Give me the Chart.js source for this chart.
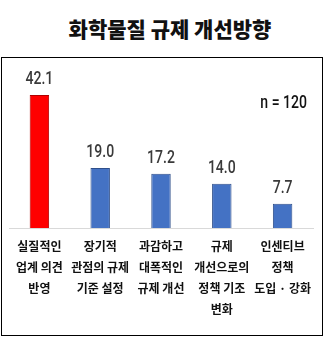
<!DOCTYPE html>
<html>
<head>
<meta charset="utf-8">
<script src="https://cdn.jsdelivr.net/npm/chart.js@4/dist/chart.umd.min.js"></script>
<style>
  html, body { margin: 0; padding: 0; background: #fff; }
  body { width: 326px; height: 351px; position: relative; overflow: hidden; }
  #title {
    position: absolute; left: 0; top: 13px; width: 340px; text-align: center;
    font-family: "Noto Sans CJK KR", sans-serif; font-weight: 900; font-size: 21px;
    color: #111; line-height: 30px;
  }
  #box {
    position: absolute; left: 1px; top: 57px; width: 320px; height: 277px;
    border: 1.5px solid #000;
  }
  #wrap { position: absolute; left: 0; top: 0; width: 320px; height: 277px; }
</style>
</head>
<body>
<div id="title">화학물질 규제 개선방향</div>
<div id="box"><div id="wrap"><canvas id="c"></canvas></div></div>
<script>
const categories = [
  ["실질적인", "업계 의견", "반영"],
  ["장기적", "관점의 규제", "기준 설정"],
  ["과감하고", "대폭적인", "규제 개선"],
  ["규제", "개선으로의", "정책 기조", "변화"],
  ["인센티브", "정책", "도입 · 강화"]
];
const values = [42.1, 19.0, 17.2, 14.0, 7.7];
const barColors = ["#FF0000", "#4472C4", "#4472C4", "#4472C4", "#4472C4"];
const borderColors = ["#B00000", "#2F4F8A", "#2F4F8A", "#2F4F8A", "#2F4F8A"];
const sampleNote = "n = 120";

const narrowFont = '500 18px Roboto, sans-serif';
const squeeze = 0.78;

function drawNarrow(ctx, text, x, y) {
  ctx.save();
  ctx.translate(x, y);
  ctx.scale(squeeze, 1);
  ctx.fillText(text, 0, 0);
  ctx.restore();
}

const valueLabels = {
  id: 'valueLabels',
  afterDatasetsDraw(chart) {
    const ctx = chart.ctx;
    const meta = chart.getDatasetMeta(0);
    ctx.save();
    ctx.font = narrowFont;
    ctx.fillStyle = '#3a3a3a';
    ctx.textAlign = 'center';
    ctx.textBaseline = 'bottom';
    meta.data.forEach((bar, i) => {
      drawNarrow(ctx, values[i].toFixed(1), bar.x, bar.y - 6);
    });
    const a = chart.chartArea;
    ctx.fillStyle = '#111';
    ctx.textAlign = 'right';
    ctx.textBaseline = 'middle';
    drawNarrow(ctx, sampleNote, a.right - 6, chart.scales.y.getPixelForValue(39.5));
    ctx.restore();
  }
};

new Chart(document.getElementById('c'), {
  type: 'bar',
  data: {
    labels: categories,
    datasets: [{
      data: values,
      backgroundColor: barColors,
      borderColor: borderColors,
      borderWidth: 1,
      categoryPercentage: 1.0,
      barPercentage: 0.32
    }]
  },
  options: {
    responsive: true,
    maintainAspectRatio: false,
    animation: false,
    layout: { padding: { left: 7, right: 9, top: 12, bottom: 7 } },
    plugins: { legend: { display: false }, tooltip: { enabled: false } },
    scales: {
      y: { display: false, min: 0, max: 50 },
      x: {
        grid: { display: false, drawTicks: false },
        border: { display: true, color: '#d9d9d9', width: 1 },
        ticks: {
          padding: 8,
          autoSkip: false,
          maxRotation: 0,
          color: '#111',
          font: { family: '"Noto Sans CJK KR", sans-serif', size: 12, weight: 'bold', lineHeight: 1.75 }
        }
      }
    }
  },
  plugins: [valueLabels]
});
</script>
</body>
</html>
